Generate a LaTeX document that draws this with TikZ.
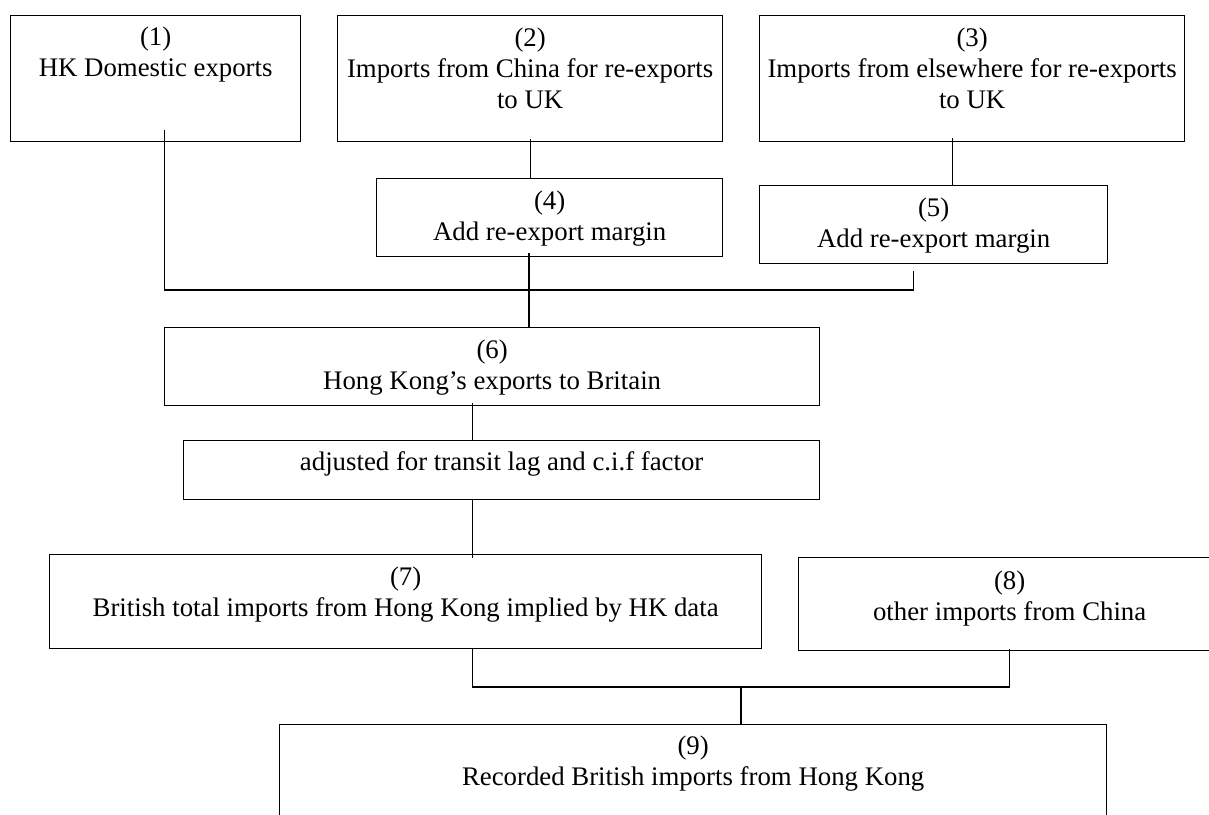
\documentclass[tikz,border=0pt]{standalone}
\usepackage{fontspec}
\setmainfont{Liberation Serif}
\begin{document}
\begin{tikzpicture}[x=1pt,y=-1pt,
  box/.style={draw, line width=1.3pt, inner sep=0pt, anchor=north west},
  lbl/.style={anchor=base, align=center, inner sep=0pt, font=\fontsize{26.8}{31}\selectfont},
  conn/.style={line width=1.3pt}]
\useasboundingbox (0,0) rectangle (1209,814);
\clip (0,0) rectangle (1209,814);
\fill[white] (0,0) rectangle (1209,814);
% boxes
\node[box, minimum width=290pt, minimum height=126pt] (b1) at (10,15) {};
\node[box, minimum width=385pt, minimum height=126pt] (b2) at (337,15) {};
\node[box, minimum width=425pt, minimum height=126pt] (b3) at (759,15) {};
\node[box, minimum width=346pt, minimum height=78pt] (b4) at (376,178) {};
\node[box, minimum width=348pt, minimum height=78pt] (b5) at (759,185) {};
\node[box, minimum width=655pt, minimum height=78pt] (b6) at (164,327) {};
\node[box, minimum width=636pt, minimum height=59pt] (adj) at (183,440) {};
\node[box, minimum width=712pt, minimum height=94pt] (b7) at (49,554) {};
\node[box, minimum width=422pt, minimum height=93pt] (b8) at (798,557) {};
\node[box, minimum width=827pt, minimum height=120pt] (b9) at (279,724) {};
% labels (anchor = baseline of the last line)
\node[lbl] (t1) at ([yshift=-61pt]b1.north) {(1)\\HK Domestic exports};
\node[lbl] (t2) at ([yshift=-93pt]b2.north) {(2)\\Imports from China for re-exports\\to UK};
\node[lbl] (t3) at ([yshift=-93pt]b3.north) {(3)\\Imports from elsewhere for re-exports\\to UK};
\node[lbl] (t4) at ([yshift=-62pt]b4.north) {(4)\\Add re-export margin};
\node[lbl] (t5) at ([yshift=-62pt]b5.north) {(5)\\Add re-export margin};
\node[lbl] (t6) at ([yshift=-62pt]b6.north) {(6)\\Hong Kong’s exports to Britain};
\node[lbl] (tadj) at ([yshift=-30pt]adj.north) {adjusted for transit lag and c.i.f factor};
\node[lbl] (t7) at ([yshift=-62pt]b7.north) {(7)\\British total imports from Hong Kong implied by HK data};
\node[lbl] (t8) at ([yshift=-63pt]b8.north) {(8)\\other imports from China};
\node[lbl] (t9) at ([yshift=-61pt]b9.north) {(9)\\Recorded British imports from Hong Kong};
% junctions
\coordinate (j1) at (529,290);
\coordinate (j2) at (741,687);
% connectors
\draw[conn] ([xshift=9pt,yshift=12pt]b1.south) |- (j1) -| ([xshift=-20pt,yshift=-7pt]b5.south);
\draw[conn] ([yshift=3pt]b2.south) -- (b2.south |- b4.north);
\draw[conn] ([xshift=-19.5pt,yshift=4pt]b3.south) -- ([xshift=-19.5pt]b3.south |- b5.north);
\draw[conn] ([yshift=4pt]b4.south -| j1) -- (j1) -- (j1 |- b6.north);
\draw[conn] ([xshift=-19.5pt,yshift=3pt]b6.south) -- ([xshift=-29pt]adj.north);
\draw[conn] ([xshift=-29pt]adj.south) -- ([xshift=67pt,yshift=-4pt]b7.north);
\draw[conn] ([xshift=67pt]b7.south) |- (j2) -| ([yshift=2pt]b8.south);
\draw[conn] (j2) -- (j2 |- b9.north);
\end{tikzpicture}
\end{document}
